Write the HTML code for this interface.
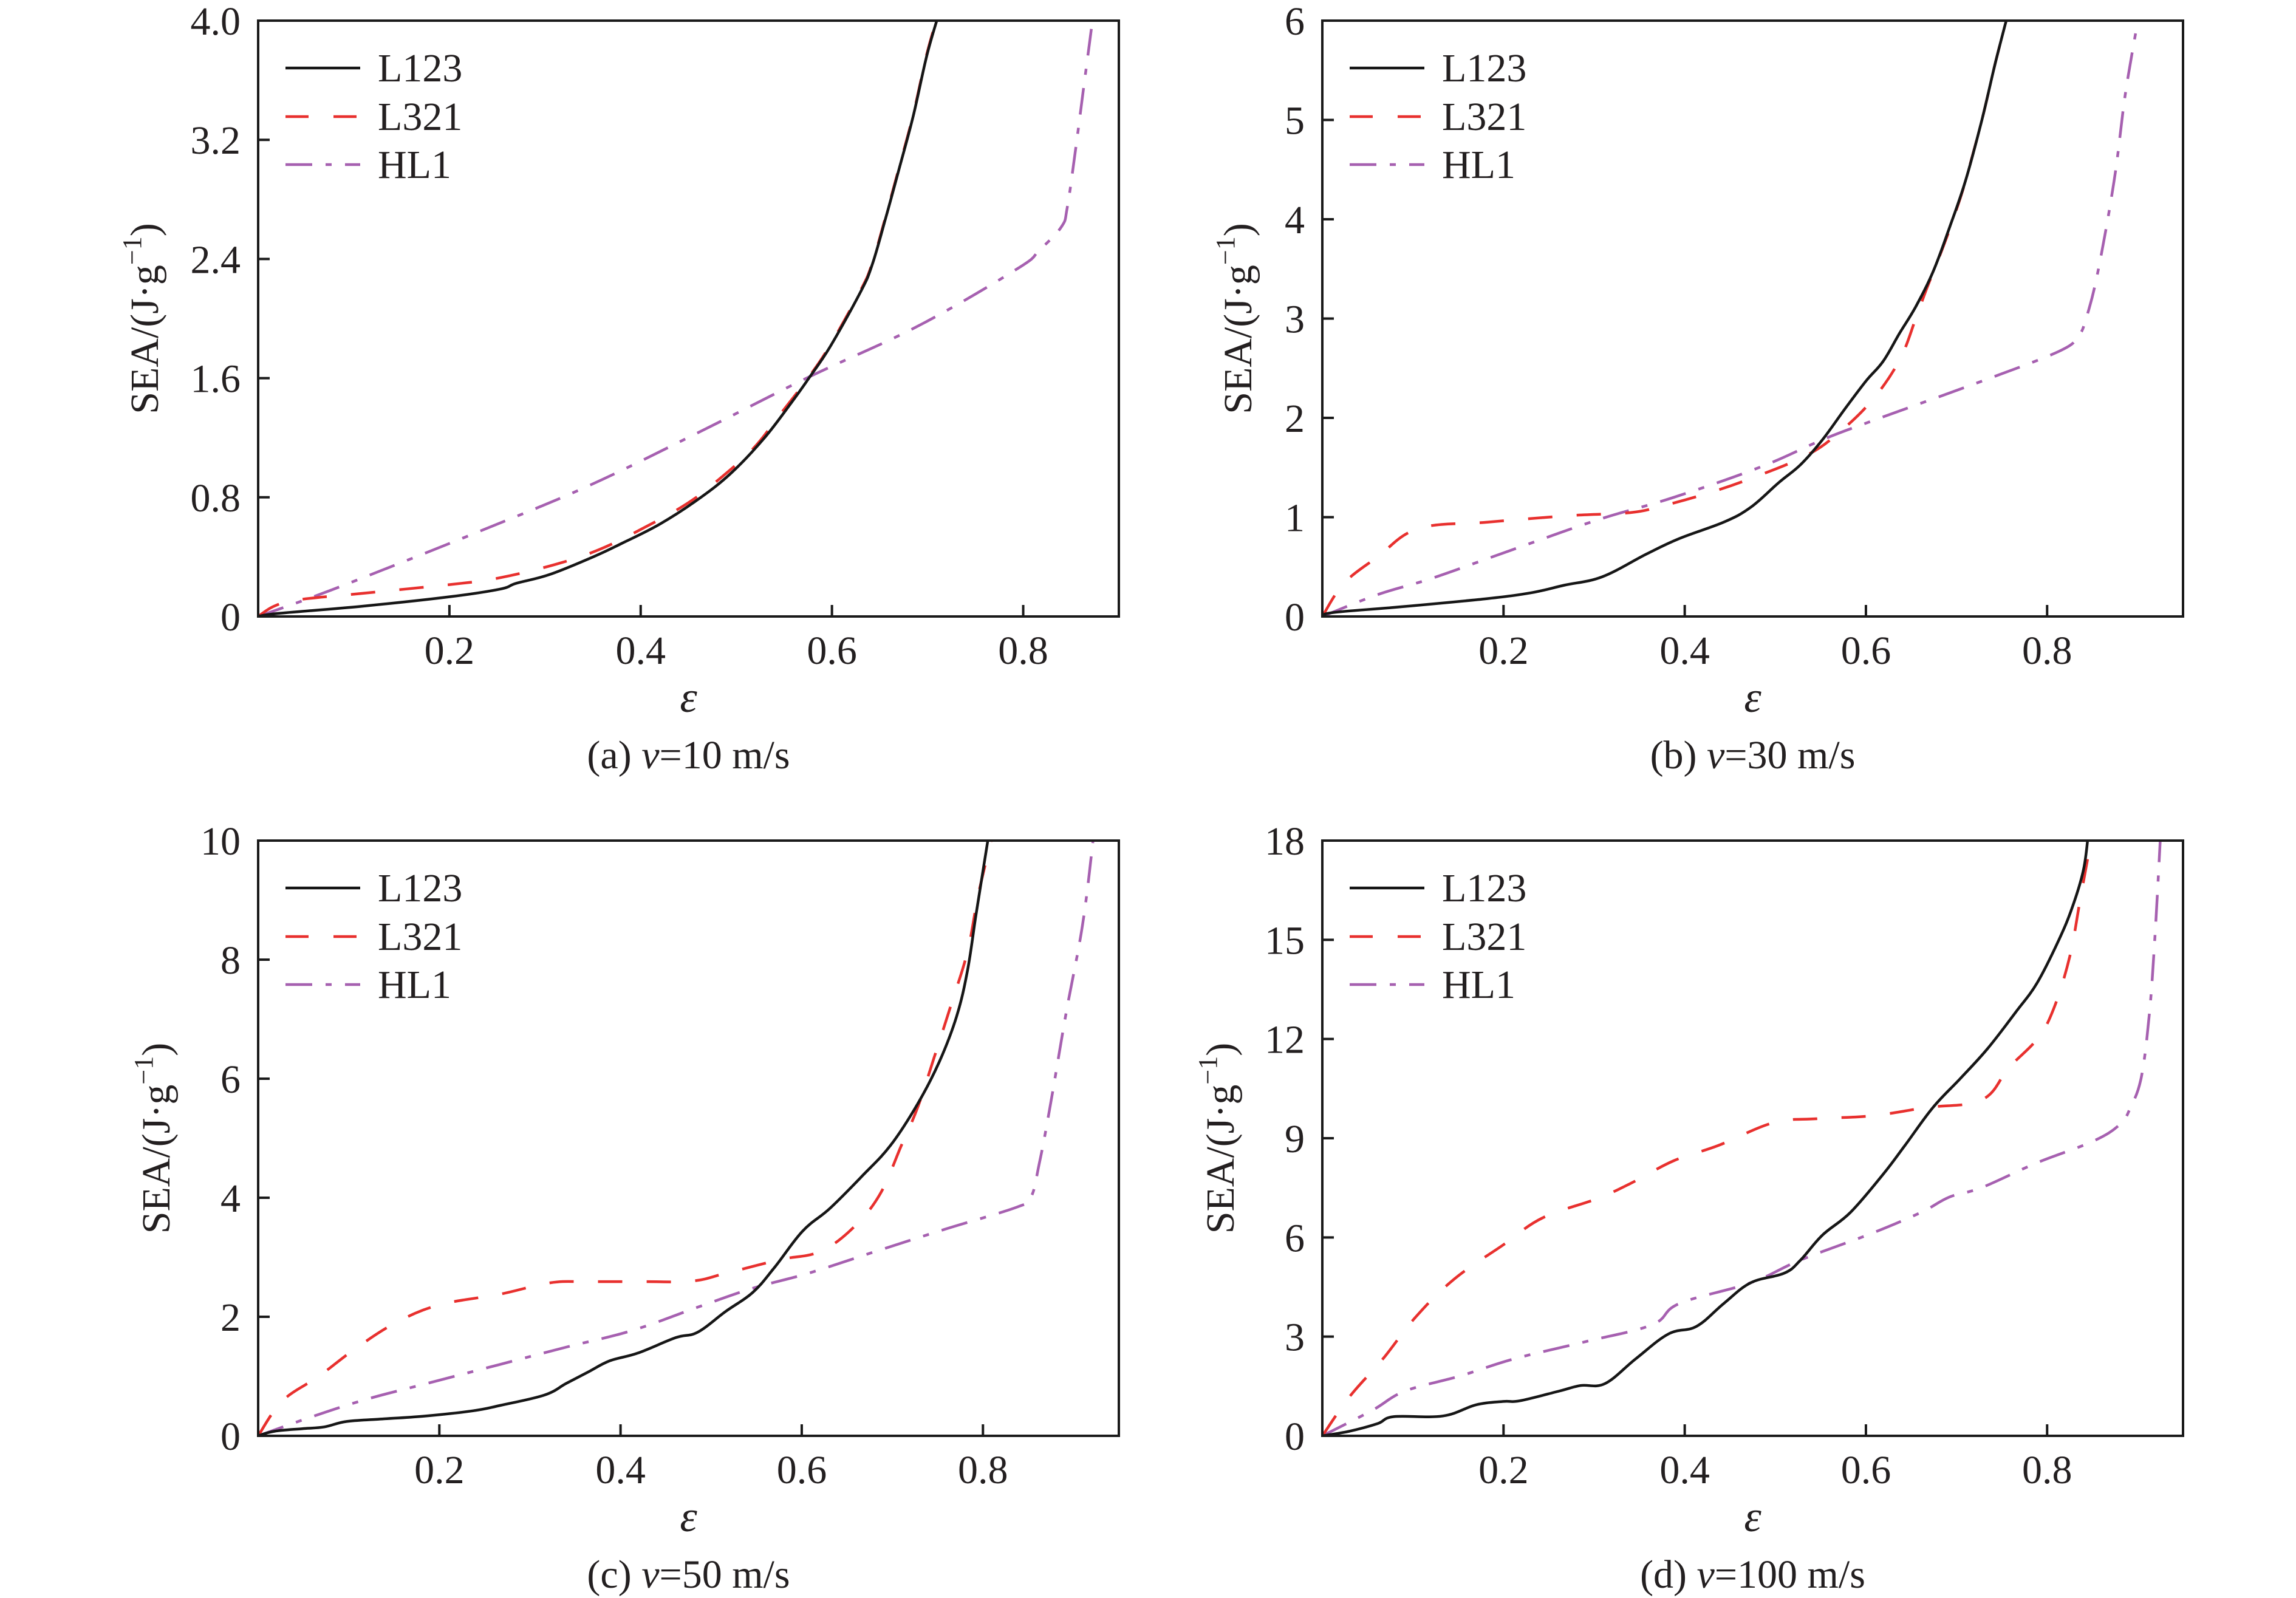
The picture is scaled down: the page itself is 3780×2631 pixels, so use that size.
<!DOCTYPE html>
<html><head><meta charset="utf-8">
<style>
html,body{margin:0;padding:0;background:#fff;}
svg{display:block;}
text{font-family:"Liberation Serif","Times New Roman",serif;fill:#231f20;}
</style></head>
<body>
<svg id="s" xmlns="http://www.w3.org/2000/svg" width="3780" height="2631" viewBox="0 0 3780 2631"></svg>
<script>
const NS="http://www.w3.org/2000/svg";
const svg=document.getElementById('s');
function el(tag,attrs,parent){const e=document.createElementNS(NS,tag);for(const k in attrs)e.setAttribute(k,attrs[k]);(parent||svg).appendChild(e);return e;}
const RED="#e8302e",PUR="#a660b0",BLK="#161616";
const panels=[
{x0:425,top:34,bot:1015,xmax:0.9,ymax:4,yt:[0,0.8,1.6,2.4,3.2,4.0],yl:["0","0.8","1.6","2.4","3.2","4.0"],yoff:165,cap:["(a) ","=10 m/s"],
L123:[[0,0],[0.02,0.02],[0.109,0.069],[0.201,0.133],[0.253,0.184],[0.27,0.223],[0.305,0.282],[0.351,0.402],[0.38,0.49],[0.42,0.62],[0.46,0.786],[0.495,0.965],[0.529,1.196],[0.558,1.439],[0.575,1.592],[0.598,1.81],[0.63,2.18],[0.642,2.36],[0.656,2.67],[0.67,3.0],[0.685,3.36],[0.699,3.76],[0.711,4.03]],
L321:[[0,0],[0.017,0.07],[0.043,0.113],[0.115,0.159],[0.213,0.223],[0.253,0.26],[0.311,0.35],[0.357,0.45],[0.403,0.594],[0.449,0.76],[0.483,0.927],[0.518,1.13],[0.545,1.35],[0.575,1.6],[0.598,1.82],[0.63,2.19],[0.642,2.37],[0.656,2.68],[0.67,3.01],[0.685,3.37],[0.699,3.77],[0.711,4.04]],
HL1:[[0,0],[0.058,0.133],[0.115,0.274],[0.23,0.568],[0.345,0.876],[0.46,1.234],[0.575,1.605],[0.69,1.95],[0.794,2.335],[0.817,2.46],[0.84,2.616],[0.846,2.744],[0.854,3.1],[0.863,3.54],[0.873,4.03]]},
{x0:2177,top:34,bot:1015,xmax:0.95,ymax:6,yt:[0,1,2,3,4,5,6],yl:["0","1","2","3","4","5","6"],yoff:117,cap:["(b) ","=30 m/s"],
L123:[[0,0],[0.012,0.04],[0.085,0.096],[0.182,0.18],[0.231,0.24],[0.267,0.315],[0.309,0.40],[0.358,0.63],[0.394,0.785],[0.443,0.95],[0.473,1.10],[0.504,1.35],[0.528,1.53],[0.552,1.78],[0.576,2.08],[0.60,2.37],[0.619,2.57],[0.637,2.85],[0.655,3.12],[0.674,3.47],[0.692,3.91],[0.71,4.39],[0.728,5.0],[0.743,5.58],[0.756,6.04]],
L321:[[0,0],[0.024,0.335],[0.061,0.60],[0.106,0.885],[0.182,0.95],[0.273,1.015],[0.34,1.046],[0.376,1.115],[0.425,1.24],[0.473,1.39],[0.534,1.62],[0.57,1.85],[0.607,2.18],[0.637,2.58],[0.655,3.0],[0.667,3.3],[0.686,3.74],[0.70,4.1],[0.71,4.39],[0.728,5.0],[0.743,5.58],[0.756,6.04]],
HL1:[[0,0],[0.061,0.22],[0.121,0.385],[0.206,0.66],[0.303,0.97],[0.388,1.2],[0.485,1.51],[0.552,1.78],[0.607,1.97],[0.728,2.37],[0.813,2.67],[0.834,2.82],[0.843,3.0],[0.856,3.47],[0.874,4.39],[0.886,5.24],[0.898,5.89]]},
{x0:425,top:1384,bot:2364,xmax:0.95,ymax:10,yt:[0,2,4,6,8,10],yl:["0","2","4","6","8","10"],yoff:146,cap:["(c) ","=50 m/s"],
L123:[[0,0],[0.018,0.077],[0.049,0.12],[0.073,0.15],[0.097,0.24],[0.133,0.28],[0.182,0.33],[0.237,0.42],[0.267,0.51],[0.316,0.685],[0.34,0.88],[0.364,1.07],[0.388,1.26],[0.419,1.39],[0.461,1.65],[0.485,1.74],[0.516,2.09],[0.546,2.41],[0.57,2.83],[0.601,3.44],[0.631,3.82],[0.667,4.37],[0.698,4.88],[0.728,5.58],[0.752,6.29],[0.771,7.05],[0.783,7.82],[0.792,8.72],[0.80,9.49],[0.806,10.06]],
L321:[[0,0],[0.027,0.59],[0.067,1.0],[0.106,1.45],[0.152,1.90],[0.20,2.2],[0.267,2.38],[0.322,2.57],[0.364,2.59],[0.425,2.59],[0.479,2.6],[0.516,2.73],[0.576,2.96],[0.619,3.09],[0.655,3.47],[0.686,4.05],[0.71,4.88],[0.728,5.52],[0.746,6.35],[0.765,7.25],[0.783,8.14],[0.795,9.1],[0.81,10.06]],
HL1:[[0,0],[0.061,0.33],[0.121,0.62],[0.194,0.91],[0.267,1.20],[0.34,1.49],[0.413,1.77],[0.485,2.16],[0.546,2.48],[0.607,2.73],[0.686,3.12],[0.758,3.47],[0.837,3.84],[0.853,4.01],[0.862,4.56],[0.874,5.52],[0.892,7.12],[0.910,8.59],[0.922,10.06]]},
{x0:2177,top:1384,bot:2364,xmax:0.95,ymax:18,yt:[0,3,6,9,12,15,18],yl:["0","3","6","9","12","15","18"],yoff:146,cap:["(d) ","=100 m/s"],
L123:[[0,0],[0.03,0.14],[0.061,0.37],[0.079,0.58],[0.133,0.60],[0.17,0.94],[0.2,1.04],[0.218,1.06],[0.261,1.35],[0.285,1.52],[0.312,1.58],[0.346,2.33],[0.382,3.08],[0.413,3.31],[0.443,4.0],[0.473,4.63],[0.51,4.92],[0.528,5.32],[0.552,6.07],[0.583,6.76],[0.619,7.91],[0.643,8.78],[0.674,9.93],[0.704,10.8],[0.734,11.7],[0.765,12.8],[0.789,13.7],[0.813,15.0],[0.828,16.0],[0.840,17.1],[0.845,18.08]],
L321:[[0,0],[0.03,1.18],[0.067,2.33],[0.103,3.59],[0.146,4.75],[0.2,5.78],[0.243,6.59],[0.303,7.17],[0.34,7.63],[0.388,8.32],[0.437,8.78],[0.498,9.47],[0.546,9.59],[0.607,9.68],[0.667,9.93],[0.728,10.16],[0.758,11.14],[0.789,12.0],[0.807,12.9],[0.825,14.5],[0.837,16.3],[0.846,17.65],[0.848,18.08]],
HL1:[[0,0],[0.055,0.77],[0.091,1.35],[0.152,1.81],[0.212,2.33],[0.291,2.85],[0.364,3.36],[0.394,4.0],[0.473,4.63],[0.528,5.32],[0.607,6.13],[0.661,6.76],[0.692,7.22],[0.728,7.51],[0.789,8.26],[0.85,8.9],[0.88,9.41],[0.892,9.93],[0.904,10.85],[0.913,12.8],[0.919,15.1],[0.925,18.08]]}
];
const W=1417;
function pathFrom(pts){
  // Catmull-Rom to bezier
  let d="M"+pts[0][0].toFixed(1)+","+pts[0][1].toFixed(1);
  for(let i=0;i<pts.length-1;i++){
    const p0=pts[Math.max(0,i-1)],p1=pts[i],p2=pts[i+1],p3=pts[Math.min(pts.length-1,i+2)];
    const t=0.18;
    const c1=[p1[0]+(p2[0]-p0[0])*t,p1[1]+(p2[1]-p0[1])*t];
    const c2=[p2[0]-(p3[0]-p1[0])*t,p2[1]-(p3[1]-p1[1])*t];
    d+=" C"+c1[0].toFixed(1)+","+c1[1].toFixed(1)+" "+c2[0].toFixed(1)+","+c2[1].toFixed(1)+" "+p2[0].toFixed(1)+","+p2[1].toFixed(1);
  }
  return d;
}
panels.forEach((p,i)=>{
  const x1=p.x0+W, H=p.bot-p.top;
  const sx=W/p.xmax, sy=H/p.ymax;
  const X=e=>p.x0+e*sx, Y=v=>p.bot-v*sy;
  const cid="c"+i;
  const cp=el("clipPath",{id:cid});
  el("rect",{x:p.x0,y:p.top,width:W,height:H},cp);
  const g=el("g",{"clip-path":"url(#"+cid+")"});
  const styles={
    HL1:{stroke:PUR,"stroke-dasharray":"44 22 10 22"},
    L321:{stroke:RED,"stroke-dasharray":"40 40"},
    L123:{stroke:BLK}
  };
  ["HL1","L321","L123"].forEach(k=>{
    const pts=p[k].map(q=>[X(q[0]),Y(q[1])]);
    const a={d:pathFrom(pts),fill:"none","stroke-width":"4.5","stroke-linejoin":"round"};
    Object.assign(a,styles[k]);
    el("path",a,g);
  });
  // axes
  el("rect",{x:p.x0,y:p.top,width:W,height:H,fill:"none",stroke:"#1a1a1a","stroke-width":"4"});
  // x ticks
  [0.2,0.4,0.6,0.8].forEach(t=>{
    const x=X(t);
    el("line",{x1:x,y1:p.bot,x2:x,y2:p.bot-19,stroke:"#1a1a1a","stroke-width":"4"});
    const tx=el("text",{x:x,y:p.bot+78,"font-size":"66","text-anchor":"middle"});tx.textContent=t.toFixed(1);
  });
  p.yt.forEach((t,j)=>{
    const y=Y(t);
    if(j>0&&j<p.yt.length-1) el("line",{x1:p.x0,y1:y,x2:p.x0+19,y2:y,stroke:"#1a1a1a","stroke-width":"4"});
    const tx=el("text",{x:p.x0-29,y:y+23,"font-size":"66","text-anchor":"end"});tx.textContent=p.yl[j];
  });
  const cx=p.x0+W/2;
  const eps=el("text",{x:cx,y:p.bot+157,"font-size":"72","font-style":"italic","text-anchor":"middle"});eps.textContent="ε";
  const cap=el("text",{x:cx,y:p.bot+250,"font-size":"66","text-anchor":"middle"});
  const t1=el("tspan",{},cap);t1.textContent=p.cap[0];
  const t2=el("tspan",{"font-style":"italic"},cap);t2.textContent="v";
  const t3=el("tspan",{},cap);t3.textContent=p.cap[1];
  // y label
  const bx=p.x0-p.yoff, cy=(p.top+p.bot)/2;
  const yl=el("text",{x:0,y:0,"font-size":"66","text-anchor":"middle",transform:"translate("+bx+","+cy+") rotate(-90)"});
  const a1=el("tspan",{},yl);a1.textContent="SEA/(J·g";
  const a2=el("tspan",{"font-size":"44",dy:"-28"},yl);a2.textContent="−1";
  const a3=el("tspan",{dy:"28"},yl);a3.textContent=")";
  // legend
  const names=["L123","L321","HL1"],lo=[78,158,237];
  const ls=[{stroke:BLK},{stroke:RED,"stroke-dasharray":"38 41"},{stroke:PUR,"stroke-dasharray":"44 22 10 22"}];
  names.forEach((n,j)=>{
    const y=p.top+lo[j];
    const a={x1:p.x0+45,y1:y,x2:p.x0+168,y2:y,"stroke-width":"4.5"};Object.assign(a,ls[j]);
    el("line",a);
    const tx=el("text",{x:p.x0+197,y:y+22,"font-size":"66"});tx.textContent=n;
  });
});
</script>
</body></html>
